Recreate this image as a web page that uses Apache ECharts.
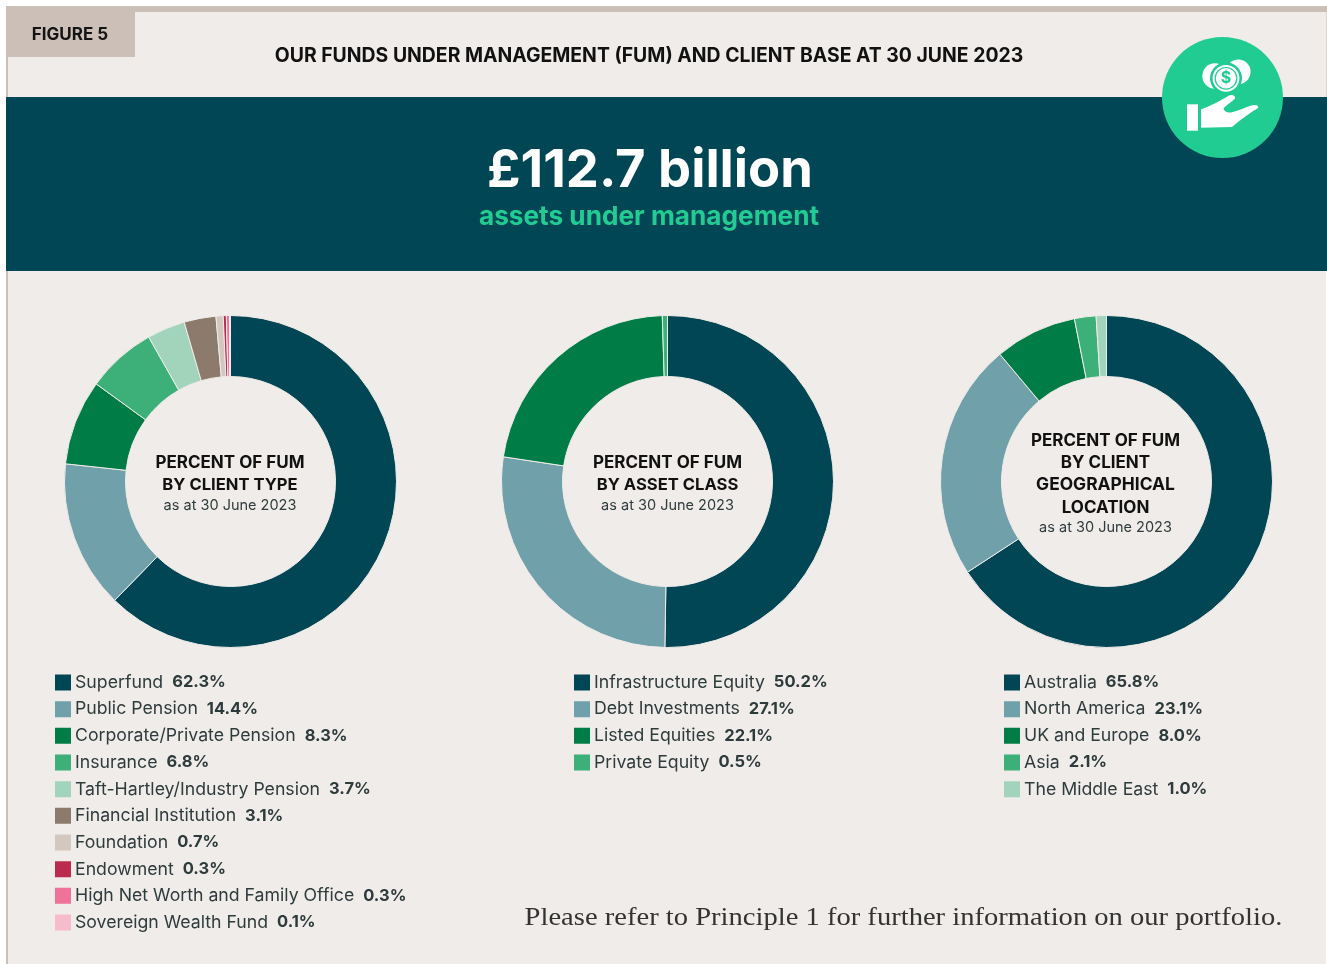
<!DOCTYPE html>
<html>
<head>
<meta charset="utf-8">
<title>Figure 5</title>
<style>
    html, body { margin: 0; padding: 0; background: #fff; }
    #chart { width: 1327px; height: 964px; }
</style>
<script src="https://cdn.jsdelivr.net/npm/echarts@6/dist/echarts.min.js"></script>
</head>
<body>
<div id="chart"></div>
<script>
    // 数据
    const clientTypes = ['Superfund', 'Public Pension', 'Corporate/Private Pension', 'Insurance', 'Taft-Hartley/Industry Pension', 'Financial Institution', 'Foundation', 'Endowment', 'High Net Worth and Family Office', 'Sovereign Wealth Fund']
    const clientTypeValues = [62.3, 14.4, 8.3, 6.8, 3.7, 3.1, 0.7, 0.3, 0.3, 0.1]

    const assetClasses = ['Infrastructure Equity', 'Debt Investments', 'Listed Equities', 'Private Equity']
    const assetClassValues = [50.2, 27.1, 22.1, 0.5]

    const locations = ['Australia', 'North America', 'UK and Europe', 'Asia', 'The Middle East']
    const locationValues = [65.8, 23.1, 8.0, 2.1, 1.0]

    const colors = ['#004654', '#70a0aa', '#007c46', '#3daf78', '#a2d4bc', '#8c7a6d', '#d3c8c0', '#bb2b4e', '#ee7299', '#f6bccd']

    const FONT = 'Inter, "Noto Sans", sans-serif'
    const PANEL = '#f0ecE9'
    const TEAL = '#004654'
    const BEIGE = '#cbbfb7'
    const GREEN = '#20cc92'

    const valueMap = {}
    function register(names, values) {
        names.forEach((name, i) => { valueMap[name] = values[i] })
    }
    register(clientTypes, clientTypeValues)
    register(assetClasses, assetClassValues)
    register(locations, locationValues)

    function makePie(names, values, cx) {
        return {
            type: 'pie',
            silent: true,
            center: [cx, 481.5],
            radius: [105, 166],
            startAngle: 90,
            clockwise: true,
            label: { show: false },
            labelLine: { show: false },
            itemStyle: { borderColor: PANEL, borderWidth: 1 },
            data: names.map((name, i) => ({
                name: name,
                value: values[i],
                itemStyle: { color: colors[i] }
            }))
        }
    }

    function makeLegend(names, left) {
        return {
            orient: 'vertical',
            left: left,
            top: 672.5,
            selectedMode: false,
            icon: 'rect',
            itemWidth: 18,
            itemHeight: 18,
            itemGap: 6.67,
            padding: 0,
            data: names,
            formatter: name => {
                let v = valueMap[name]
                return '{n|' + name + '}{v|' + v.toFixed(1) + '%}'
            },
            textStyle: {
                rich: {
                    // 图标和文字的间距比默认值小
                    n: { fontFamily: FONT, fontSize: 17.7, color: '#2e3b3c', padding: [0, 9, 0, -2] },
                    v: { fontFamily: FONT, fontSize: 16.5, fontWeight: 700, color: '#2e3b3c' }
                }
            }
        }
    }

    function text(x, y, str, size, weight, color, family) {
        return {
            type: 'text',
            x: x,
            y: y,
            style: {
                text: str,
                fontSize: size,
                fontWeight: weight,
                fontFamily: family || FONT,
                fill: color,
                align: 'center',
                verticalAlign: 'middle'
            }
        }
    }

    function rect(x, y, w, h, fill) {
        return { type: 'rect', shape: { x: x, y: y, width: w, height: h }, style: { fill: fill } }
    }

    function circle(cx, cy, r, fill) {
        return { type: 'circle', shape: { cx: cx, cy: cy, r: r }, style: { fill: fill } }
    }

    const handPath = 'M1201 109.5 C1210 106 1222 100 1229 95.5 C1232 94 1236 96 1235 98.5 C1232 102 1226 105 1223.5 108.5 C1224 111 1227 113 1231 112.5 C1238 111 1246 107 1253 105 C1257 104.5 1259 106.5 1258 108 C1250 113 1240 120 1232 127 L1201 127.7 Z'
    echarts.graphic.registerShape('hand', echarts.graphic.extendPath(handPath))

    const backdrop = [
        rect(6, 6, 1321, 6, BEIGE),
        rect(6, 6, 2, 958, BEIGE),
        rect(8, 12, 1318, 952, PANEL),
        rect(1326, 12, 1, 85, '#dcd5cf'),
        rect(6, 6, 129, 51, BEIGE),
        rect(6, 97, 1321, 174, TEAL),

        text(70, 35, 'FIGURE 5', 17, 700, '#141414'),
        text(649, 56, 'OUR FUNDS UNDER MANAGEMENT (FUM) AND CLIENT BASE AT 30 JUNE 2023', 19.4, 700, '#111111'),
        text(650, 171, '£112.7 billion', 52.5, 700, '#ffffff'),
        text(649, 217, 'assets under management', 26.2, 700, GREEN),

        // 图标
        circle(1222.5, 97.5, 60.5, GREEN),
        circle(1215, 76, 12.7, '#ffffff'),
        circle(1238.3, 71.7, 12.3, '#ffffff'),
        circle(1226, 78.3, 16, GREEN),
        circle(1226, 78.3, 13.4, '#ffffff'),
        { type: 'circle', shape: { cx: 1226, cy: 78.3, r: 10.8 }, style: { fill: 'none', stroke: GREEN, lineWidth: 1.2 } },
        text(1226, 78.5, '$', 16, 700, GREEN),
        rect(1187, 104.3, 11, 26.4, '#ffffff'),
        { type: 'hand', style: { fill: '#ffffff' } },

        // 环形图中间文字
        text(230, 463, 'PERCENT OF FUM', 17, 700, '#111111'),
        text(230, 485, 'BY CLIENT TYPE', 16.6, 700, '#111111'),
        text(230, 506, 'as at 30 June 2023', 14.5, 400, '#2e3b3c'),

        text(667.5, 463, 'PERCENT OF FUM', 17, 700, '#111111'),
        text(667.5, 485, 'BY ASSET CLASS', 16.6, 700, '#111111'),
        text(667.5, 506, 'as at 30 June 2023', 14.5, 400, '#2e3b3c'),

        text(1105.5, 441, 'PERCENT OF FUM', 17, 700, '#111111'),
        text(1105.5, 463, 'BY CLIENT', 17, 700, '#111111'),
        text(1105.5, 485, 'GEOGRAPHICAL', 17.4, 700, '#111111'),
        text(1105.5, 508, 'LOCATION', 17, 700, '#111111'),
        text(1105.5, 528, 'as at 30 June 2023', 14.5, 400, '#2e3b3c'),

        Object.assign(text(903.5, 918, 'Please refer to Principle 1 for further information on our portfolio.', 25, 400, '#333333', '"Liberation Serif", serif'), { scaleX: 1.143 })
    ]

    const myChart = echarts.init(document.getElementById('chart'), null, { renderer: 'canvas' })
    myChart.setOption({
        animation: false,
        backgroundColor: '#ffffff',
        graphic: { elements: backdrop.map(el => Object.assign({ z: -10 }, el)) },
        legend: [
            makeLegend(clientTypes, 53),
            makeLegend(assetClasses, 572),
            makeLegend(locations, 1002)
        ],
        series: [
            makePie(clientTypes, clientTypeValues, 230.5),
            makePie(assetClasses, assetClassValues, 667.5),
            makePie(locations, locationValues, 1106.5)
        ]
    })
</script>
</body>
</html>
